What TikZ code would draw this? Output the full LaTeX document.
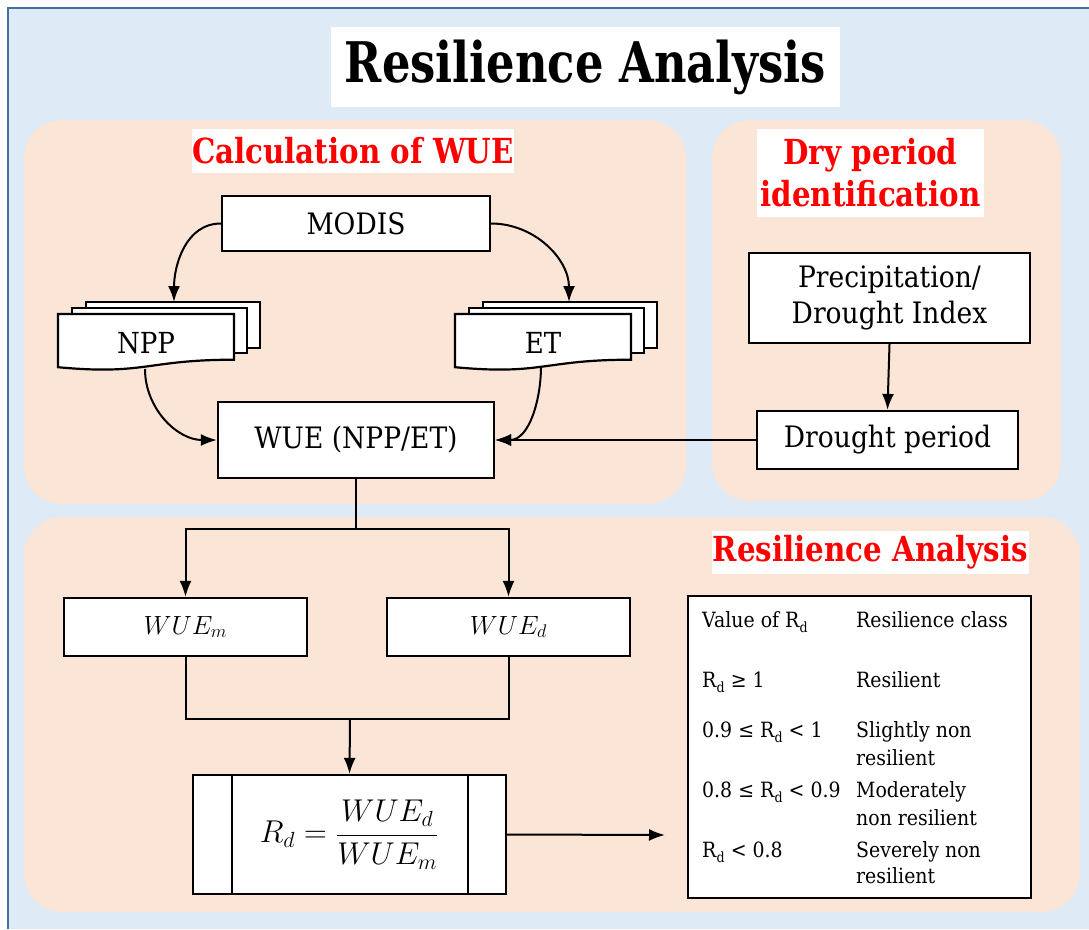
\documentclass[tikz,border=0pt]{standalone}
\usepackage{fontspec}
\setmainfont{DejaVu Serif}[FakeStretch=0.9]
\newfontfamily\titlefont{DejaVu Serif}[FakeStretch=0.8]
\newfontfamily\headfont{DejaVu Serif}[FakeStretch=0.85]
\usetikzlibrary{arrows.meta}
\definecolor{bgblue}{RGB}{222,235,247}
\definecolor{bordblue}{RGB}{65,113,156}
\definecolor{peach}{RGB}{251,229,214}
\newcommand\Rdsym{R\kern0.3pt\raisebox{-0.28em}{\fontsize{14}{14}\selectfont d}}
\newcommand\docstack[2]{%
  \filldraw[fill=white,draw=black,line width=2.2pt] (#1+28,#2-12) rectangle (#1+28+174,#2+34);
  \filldraw[fill=white,draw=black,line width=2.2pt] (#1+14,#2-6) rectangle (#1+14+175,#2+39);
  \filldraw[fill=white,draw=black,line width=2.2pt] (#1,#2) -- (#1+176,#2) -- (#1+176,#2+45.7)
     .. controls (#1+88,#2+45.7) and (#1+88,#2+61.4) .. (#1,#2+53.2) -- cycle;
}
\tikzset{
  box/.style={draw=black, line width=2.2pt, fill=white, inner sep=0pt, align=center,
              font=\fontsize{29.5}{36}\selectfont},
  arr/.style={line width=2pt, -{Latex[length=16pt,width=12pt]}},
  ln/.style={line width=2pt},
  panel/.style={fill=peach, rounded corners=38pt},
  head/.style={fill=white, text=red, inner sep=0pt, align=center,
               font=\headfont\bfseries\fontsize{34.5}{42}\selectfont},
  tab/.style={anchor=base west, inner sep=0pt, font=\fontsize{21}{25}\selectfont},
  lbl/.style={inner sep=0pt, font=\fontsize{29}{34}\selectfont},
  mth/.style={font=\fontsize{20.74}{25}\selectfont},
}
\begin{document}
\begin{tikzpicture}[x=1pt,y=-1pt]
\useasboundingbox (0,0) rectangle (1089,929);
% background
\fill[bgblue] (8,8) rectangle (1089,929);
\draw[bordblue, line width=2pt] (8,929) -- (8,8) -- (1089,8);
% panels
\fill[panel] (24,120) rectangle (686,504);
\fill[panel] (712,120) rectangle (1061,501);
\fill[panel] (24,517) rectangle (1080,912);
% title
\node[fill=white, inner sep=0pt, minimum width=509pt, minimum height=80pt,
      font=\titlefont\bfseries\fontsize{56}{60}\selectfont] (title) at (585.5,67) {Resilience Analysis};
% headers
\node[head, minimum width=318pt, minimum height=44pt] (h1) at (353,151) {Calculation of WUE};
\node[head, minimum width=227pt, minimum height=88pt] (h2) at (870.5,173) {Dry period\\identification};
\node[head, minimum width=317pt, minimum height=43pt] (h3) at (870.5,552.5) {Resilience Analysis};
% top-left boxes
\node[box, minimum width=268pt, minimum height=55pt] (modis) at (356,223.5) {MODIS};
\docstack{58}{314}
\docstack{455}{314}
\node[lbl] (npp) at (146,343) {NPP};
\node[lbl] (et) at (543,343) {ET};
\coordinate (npptop) at (174,302);
\coordinate (ettop) at (569,302);
\coordinate (nppbot) at (145,369);
\coordinate (etbot) at (541,366);
\node[box, minimum width=276pt, minimum height=76pt] (wue) at (356,440) {WUE (NPP/ET)};
% dry period boxes
\node[box, minimum width=281pt, minimum height=90pt] (precip) at (889.5,298) {Precipitation/\\Drought Index};
\node[box, minimum width=261pt, minimum height=58pt] (drought) at (887.5,440) {Drought period};
% lower boxes
\node[box, mth, minimum width=243pt, minimum height=58pt] (wuem) at (185.5,627) {\scalebox{1.27}{$WUE_m$}};
\node[box, mth, minimum width=243pt, minimum height=58pt] (wued) at (508.5,627) {\scalebox{1.27}{$WUE_d$}};
\node[box, mth, minimum width=313pt, minimum height=119pt] (rd) at (349.5,834.5)
   {\scalebox{1.52}{$\displaystyle R_d=\frac{WUE_d}{WUE_m}$}};
\draw[line width=2.2pt] ([xshift=40pt]rd.north west) -- ([xshift=40pt]rd.south west);
\draw[line width=2.2pt] ([xshift=-39pt]rd.north east) -- ([xshift=-39pt]rd.south east);
% table
\node[draw=black, line width=2.2pt, fill=white, inner sep=0pt, minimum width=343pt, minimum height=302pt,
      anchor=north west] (table) at (687,595) {};
\node[tab] (c1a) at (702,627) {Value of \Rdsym};
\node[tab] (c2a) at (856,627) {Resilience class};
\node[tab] (c1b) at (702,687) {\Rdsym{} ≥ 1};
\node[tab] (c2b) at (856,687) {Resilient};
\node[tab] (c1c) at (702,737) {0.9 ≤ \Rdsym{} < 1};
\node[tab] (c2c) at (856,737) {Slightly non};
\node[tab] (c2c2) at (856,765) {resilient};
\node[tab] (c1d) at (702,797) {0.8 ≤ \Rdsym{} < 0.9};
\node[tab] (c2d) at (856,797) {Moderately};
\node[tab] (c2d2) at (856,825) {non resilient};
\node[tab] (c1e) at (702,857) {\Rdsym{} < 0.8};
\node[tab] (c2e) at (856,857) {Severely non};
\node[tab] (c2e2) at (856,883) {resilient};
% connectors
\draw[arr] (modis.west) to[out=180,in=90] (npptop);
\draw[arr] (modis.east) to[out=0,in=90] (ettop);
\draw[arr] (nppbot) to[out=-90,in=180] (wue.west);
\draw[arr] (etbot) to[out=-90,in=0] (wue.east);
\draw[arr] (drought.west) -- (wue.east);
\draw[arr] (precip.south) -- (drought.north);
\coordinate (split) at (356,529);
\draw[ln] (wue.south) -- (split);
\draw[arr] (split) -| (wuem.north);
\draw[arr] (split) -| (wued.north);
\coordinate (merge) at (350,719);
\draw[ln] (wuem.south) |- (merge) -| (wued.south);
\draw[arr] (merge) -- (rd.north);
\coordinate (tabin) at (665,835);
\draw[arr] (rd.east) -- (tabin);
\end{tikzpicture}
\end{document}
